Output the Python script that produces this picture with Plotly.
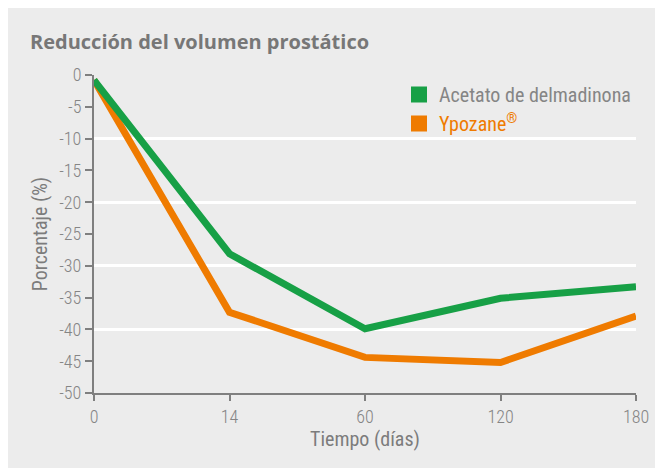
import plotly.graph_objects as go

days = ["0", "14", "60", "120", "180"]
acetato = [-0.8, -28.1, -39.9, -35.1, -33.3]
ypozane = [-0.8, -37.3, -44.4, -45.2, -37.9]
ytick_vals = [0, -5, -10, -15, -20, -25, -30, -35, -40, -45, -50]
ytick_text = ["0", "-5", "-10", "-15", "-20", "-25", "-30", "-35", "-40", "-45", "-50"]
grid_vals = [0, -10, -20, -30, -40]

GREEN = "#17a046"
ORANGE = "#ef7b00"
GRAY_TXT = "#858585"
AXIS = "#7f7f7f"
BG = "#ececec"
FONT = "Roboto Condensed, Roboto, sans-serif"

# page is offset by the 8px body margin; design in target pixels
OFF = 8
W, H = 663 - OFF, 468 - OFF
PL, PR, PT, PB = 94, 636, 75, 393          # plot area in target px
L, T = PL - OFF, PT - OFF
R, B = W - (PR - OFF), H - (PB - OFF)
pw, ph = PR - PL, PB - PT

def px_x(p):
    return (p - PL) / pw

def px_y(p):
    return (PB - p) / ph

fig = go.Figure()
fig.add_trace(go.Scatter(x=days, y=ypozane, mode="lines",
                         line=dict(color=ORANGE, width=7), showlegend=False))
fig.add_trace(go.Scatter(x=days, y=acetato, mode="lines",
                         line=dict(color=GREEN, width=7), showlegend=False))
# legend entries
fig.add_trace(go.Scatter(x=[None], y=[None], mode="markers",
                         marker=dict(symbol="square", size=16, color=GREEN),
                         name="<span style='color:#858585'>Acetato de delmadinona</span>"))
fig.add_trace(go.Scatter(x=[None], y=[None], mode="markers",
                         marker=dict(symbol="square", size=16, color=ORANGE),
                         name="<span style='color:#ef7b00'>Ypozane<sup>®</sup></span>"))
# grid axis trace (invisible)
fig.add_trace(go.Scatter(x=days, y=[None]*len(days), yaxis="y2", showlegend=False,
                         hoverinfo="skip"))

fig.update_layout(
    width=W, height=H,
    margin=dict(l=L, r=R, t=T, b=B, autoexpand=False),
    paper_bgcolor=BG,
    plot_bgcolor="rgba(0,0,0,0)",
    font=dict(family=FONT, color=GRAY_TXT, size=18, weight=300),
    title=dict(text="<b>Reducción del volumen prostático</b>",
               x=(30 - OFF) / W, xanchor="left",
               y=1 - (42 - OFF) / H, yanchor="middle",
               font=dict(family="Open Sans, sans-serif", size=20, color="#777777")),
    xaxis=dict(type="category", range=[0, 4], showgrid=False,
               showline=True, linecolor=AXIS, linewidth=2,
               ticks="outside", ticklen=6, tickcolor=AXIS, tickwidth=2,
               tickfont=dict(size=18, color=GRAY_TXT, weight=300),
               title=dict(text="Tiempo (días)", font=dict(size=20, color="#7c7c7c", weight=400), standoff=6),
               zeroline=False),
    yaxis=dict(range=[-50, 0], tickvals=ytick_vals, ticktext=ytick_text, showgrid=False,
               showline=True, linecolor=AXIS, linewidth=2,
               ticks="outside", ticklen=7, tickcolor=AXIS, tickwidth=2,
               tickfont=dict(size=18, color=GRAY_TXT, weight=300),
               title=dict(text="Porcentaje (%)", font=dict(size=20, color="#7c7c7c", weight=400), standoff=6),
               zeroline=False),
    yaxis2=dict(range=[-50, 0], overlaying="y", tickvals=grid_vals, showgrid=True,
                gridcolor="white", gridwidth=2.5, showticklabels=False,
                showline=False, zeroline=False, ticks="", layer="below traces"),
    legend=dict(x=px_x(399), y=px_y(75), xanchor="left", yanchor="top",
                bgcolor="rgba(0,0,0,0)", font=dict(size=20, weight=400),
                itemsizing="trace", tracegroupgap=0),
)

fig.write_html("out.html")
